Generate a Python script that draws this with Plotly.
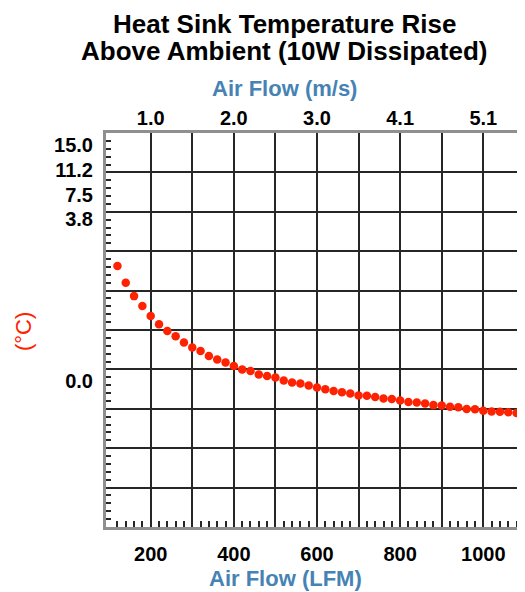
import plotly.graph_objects as go

# ---- data ----
airflow_lfm = [120, 140, 160, 180, 200, 220, 240, 260, 280, 300,
               320, 340, 360, 380, 400, 420, 440, 460, 480, 500,
               520, 540, 560, 580, 600, 620, 640, 660, 680, 700,
               720, 740, 760, 780, 800, 820, 840, 860, 880, 900,
               920, 940, 960, 980, 1000, 1020, 1040, 1060, 1080, 1100]
temp_rise = [9.94, 9.30, 8.79, 8.41, 8.03, 7.72, 7.46, 7.26, 7.02, 6.83,
             6.70, 6.51, 6.38, 6.26, 6.13, 6.00, 5.94, 5.81, 5.75, 5.69,
             5.58, 5.50, 5.46, 5.39, 5.31, 5.24, 5.18, 5.13, 5.08, 5.01,
             5.00, 4.95, 4.89, 4.87, 4.82, 4.76, 4.74, 4.70, 4.64, 4.63,
             4.58, 4.56, 4.49, 4.48, 4.43, 4.40, 4.39, 4.37, 4.34, 4.32]

lfm_tick_vals = [200, 300, 400, 500, 600, 700, 800, 900, 1000]
lfm_tick_text = ["200", "", "400", "", "600", "", "800", "", "1000"]
ms_tick_vals = [200, 400, 600, 800, 1000]
ms_tick_text = ["1.0", "2.0", "3.0", "4.1", "5.1"]
y_tick_text = ["15.0", "11.2", "7.5", "3.8", "0.0"]
y_tick_pos = [14.54, 13.59, 12.64, 11.71, 5.56]

title_lines = ["Heat Sink Temperature Rise", "Above Ambient (10W Dissipated)"]

# ---- styling ----
FONT = "Liberation Sans, Arial, sans-serif"
X_RANGE = [92.5, 1100.3]
Y_RANGE = [0, 15]
GRID = "#262626"
AXLINE = "#8f8f8f"
BLUE = "#4682B4"
RED = "#ff2200"

# page offset of the figure (browser body margin) is 8px
PL, PR, PT, PB = 106, 525, 133, 527   # plot-area edges in page pixels
PW, PH = PR - PL, PB - PT


def px(xp):
    return (xp - PL) / PW


def py(yp):
    return (PB - yp) / PH


y_grid = [1.5 * i for i in range(1, 10)]
x_minor = [v for v in range(120, 1100, 20) if v % 100 != 0]
y_minor = [round(0.3 * i, 2) for i in range(1, 50) if i % 5 != 0]

fig = go.Figure()
fig.add_trace(go.Scatter(
    x=airflow_lfm, y=temp_rise, mode="markers",
    marker=dict(color=RED, size=8.5, line=dict(width=0)),
    showlegend=False, hoverinfo="x+y"))
fig.add_trace(go.Scatter(
    x=[None], y=[None], xaxis="x2", yaxis="y2",
    mode="markers", showlegend=False, hoverinfo="skip"))

tick_font = dict(size=20, color="black", family=FONT, weight="bold")

fig.update_layout(
    width=517, height=584,
    margin=dict(l=98, r=0, t=125, b=65),
    paper_bgcolor="white", plot_bgcolor="white",
    font=dict(family=FONT, color="black"),
    xaxis=dict(
        range=X_RANGE, tickmode="array", tickvals=lfm_tick_vals, ticktext=lfm_tick_text,
        showgrid=True, gridcolor=GRID, gridwidth=2,
        showline=True, linecolor=AXLINE, linewidth=2.5, mirror=True,
        ticks="", ticklabelstandoff=7, tickfont=tick_font,
        minor=dict(tickmode="array", tickvals=x_minor, ticks="inside",
                   ticklen=6, tickwidth=2, tickcolor=GRID, showgrid=False),
        zeroline=False, fixedrange=True),
    xaxis2=dict(
        overlaying="x", side="top", anchor="y", range=X_RANGE,
        tickmode="array", tickvals=ms_tick_vals, ticktext=ms_tick_text,
        showgrid=False, showline=False, ticks="", zeroline=False,
        ticklabelstandoff=3, tickfont=tick_font, fixedrange=True),
    yaxis=dict(
        range=Y_RANGE, tickmode="array", tickvals=y_grid, showticklabels=False,
        showgrid=True, gridcolor=GRID, gridwidth=2,
        showline=True, linecolor=AXLINE, linewidth=2.5, mirror=False,
        ticks="",
        minor=dict(tickmode="array", tickvals=y_minor, ticks="inside",
                   ticklen=5, tickwidth=2, tickcolor=GRID, showgrid=False),
        zeroline=False, fixedrange=True),
    yaxis2=dict(
        overlaying="y", side="left", anchor="x", range=Y_RANGE,
        tickmode="array", tickvals=y_tick_pos, ticktext=y_tick_text,
        showgrid=False, showline=False, ticks="", zeroline=False,
        ticklabelstandoff=12, tickfont=tick_font, fixedrange=True),
    annotations=[
        dict(text="<b>%s</b>" % title_lines[0], xref="paper", yref="paper",
             x=px(284), y=py(24), xanchor="center", yanchor="middle",
             showarrow=False, font=dict(size=26, color="black", family=FONT)),
        dict(text="<b>%s</b>" % title_lines[1], xref="paper", yref="paper",
             x=px(283.5), y=py(51), xanchor="center", yanchor="middle",
             showarrow=False, font=dict(size=26, color="black", family=FONT)),
        dict(text="<b>Air Flow (m/s)</b>", xref="paper", yref="paper",
             x=px(284), y=py(88), xanchor="center", yanchor="middle",
             showarrow=False, font=dict(size=22, color=BLUE, family=FONT)),
        dict(text="<b>Air Flow (LFM)</b>", xref="paper", yref="paper",
             x=px(285), y=py(578), xanchor="center", yanchor="middle",
             showarrow=False, font=dict(size=22, color=BLUE, family=FONT)),
        dict(text="(°C)", xref="paper", yref="paper",
             x=px(23), y=py(332), xanchor="center", yanchor="middle",
             textangle=-90, showarrow=False, font=dict(size=22, color=RED, family=FONT)),
    ],
)

fig.write_html("out.html")
